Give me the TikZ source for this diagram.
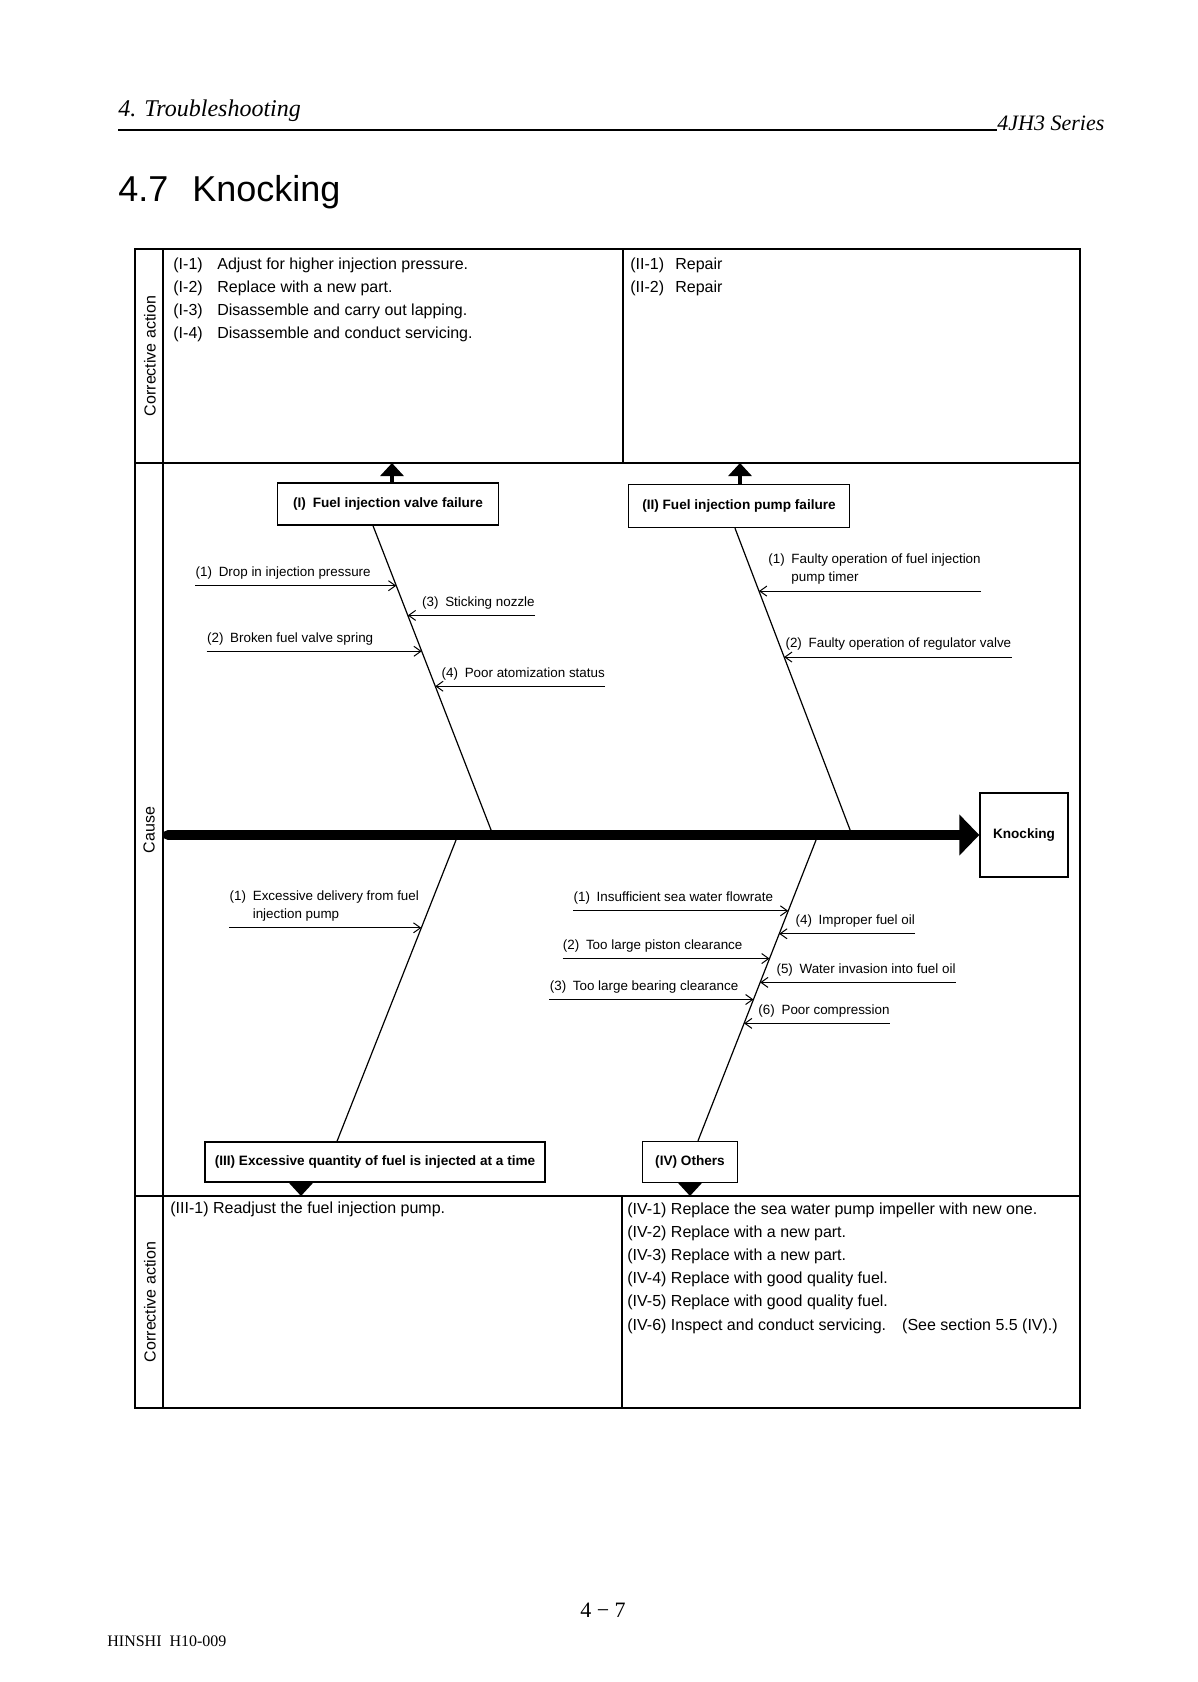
\documentclass[tikz,border=0pt]{standalone}
\usepackage{fontspec}
\setmainfont{Liberation Serif}
\setsansfont{Liberation Sans}
\usetikzlibrary{arrows.meta, positioning, calc}

\begin{document}
\begin{tikzpicture}[x=0.5pt, y=-0.5pt,
    panel/.style={line width=1.1pt},
    causebox/.style={draw, line width=0.7pt, inner sep=2pt, font=\sffamily\bfseries\fontsize{6.8}{8}\selectfont},
    bone/.style={line width=0.6pt},
    cause/.style={inner xsep=0pt, inner ysep=3pt, align=left, font=\sffamily\fontsize{6.7}{9}\selectfont},
    into/.style={line width=0.5pt, -{Straight Barb[length=3.5pt,width=5pt]}},
    toaction/.style={line width=2pt, -{Triangle[length=6.5pt,width=11.5pt]}},
    action/.style={inner sep=0pt, anchor=north west, align=left, font=\sffamily\fontsize{8}{11.6}\selectfont},
    sidelabel/.style={rotate=90, font=\sffamily\fontsize{8}{10}\selectfont}]
    \useasboundingbox (0,0) rectangle (1198,1682);

    % page header
    \node[anchor=base west, inner sep=0pt, font=\itshape\fontsize{12}{14}\selectfont] (chap) at (118,116) {4. Troubleshooting};
    \coordinate (rulel) at (118,130);
    \coordinate (ruler) at (997,130);
    \draw[line width=1.4pt] (rulel) -- (ruler);
    \node[anchor=base west, inner sep=0pt, font=\itshape\fontsize{11}{13}\selectfont] (series) at (ruler) {4JH3 Series};
    \node[anchor=base west, inner sep=0pt, font=\sffamily\fontsize{18}{22}\selectfont] (title) at (118,201) {4.7\hspace{12pt}Knocking};

    % frame
    \draw[panel] (135,249) rectangle (1080,1408);
    \draw[panel] (163,249) -- (163,1408);
    \draw[panel] (135,463) -- (1080,463);
    \draw[panel] (135,1196) -- (1080,1196);
    \draw[panel] (623,249) -- (623,463);
    \draw[panel] (622,1196) -- (622,1408);
    \coordinate (topdiv) at (0,463);
    \coordinate (lowdiv) at (0,1196);

    \node[sidelabel] (ca1) at (150,356) {Corrective action};
    \node[sidelabel] (cs) at (149,830) {Cause};
    \node[sidelabel] (ca2) at (150,1302) {Corrective action};

    % corrective actions
    \node[action] (actI) at (173,257) {\makebox[22pt][l]{(I-1)}Adjust for higher injection pressure.\\
        \makebox[22pt][l]{(I-2)}Replace with a new part.\\
        \makebox[22pt][l]{(I-3)}Disassemble and carry out lapping.\\
        \makebox[22pt][l]{(I-4)}Disassemble and conduct servicing.};
    \node[action] (actII) at (630,257) {\makebox[22.5pt][l]{(II-1)}Repair\\
        \makebox[22.5pt][l]{(II-2)}Repair};
    \node[action] (actIII) at (170,1201) {(III-1) Readjust the fuel injection pump.};
    \node[action] (actIV) at (627,1202) {(IV-1) Replace the sea water pump impeller with new one.\\
        (IV-2) Replace with a new part.\\
        (IV-3) Replace with a new part.\\
        (IV-4) Replace with good quality fuel.\\
        (IV-5) Replace with good quality fuel.\\
        (IV-6) Inspect and conduct servicing.\quad (See section 5.5 (IV).)};

    % main groups
    \node[causebox, minimum width=110.5pt, minimum height=21pt] (I) at (388,504) {(I)\enspace Fuel injection valve failure};
    \node[causebox, minimum width=110.5pt, minimum height=21.5pt] (II) at (739,506) {(II) Fuel injection pump failure};
    \node[causebox, minimum width=170pt, minimum height=20pt] (III) at (375,1162) {(III) Excessive quantity of fuel is injected at a time};
    \node[causebox, minimum width=47.5pt, minimum height=20.5pt] (IV) at (690,1162) {(IV) Others};
    \node[causebox, minimum width=44pt, minimum height=42pt] (K) at (1024,835) {Knocking};

    % spine
    \coordinate (tail) at (168,835);
    \draw[line width=5pt, line cap=round, -{Triangle[length=10pt,width=20pt]}] (tail) -- (K.west);
    \coordinate (sI) at (493,835);
    \coordinate (sII) at (852,835);
    \coordinate (sIII) at (458,835);
    \coordinate (sIV) at (818,835);

    % bones
    \draw[bone] ($(I.south)+(-15,0)$) -- coordinate[pos=.194] (i1) coordinate[pos=.290] (i3)
        coordinate[pos=.406] (i2) coordinate[pos=.519] (i4) (sI);
    \draw[bone] ($(II.south)+(-4,0)$) -- coordinate[pos=.205] (ii1) coordinate[pos=.420] (ii2) (sII);
    \draw[bone] (sIII) -- coordinate[pos=.303] (iii1) ($(III.north)+(-38,0)$);
    \draw[bone] (sIV) -- coordinate[pos=.248] (iv1) coordinate[pos=.323] (iv4) coordinate[pos=.404] (iv2)
        coordinate[pos=.482] (iv5) coordinate[pos=.538] (iv3) coordinate[pos=.616] (iv6) ($(IV.north)+(8,0)$);

    % causes of (I)
    \node[cause, anchor=south west] (c1) at ($(i1)+(-201,0)$) {(1)\enspace Drop in injection pressure};
    \node[cause, anchor=south west] (c2) at ($(i2)+(-215,0)$) {(2)\enspace Broken fuel valve spring};
    \node[cause, above right=0pt and 7pt of i3] (c3) {(3)\enspace Sticking nozzle};
    \node[cause, above right=0pt and 3pt of i4] (c4) {(4)\enspace Poor atomization status};
    \draw[into] (c1.south west) -- (i1);
    \draw[into] (c2.south west) -- (i2);
    \draw[into] (c3.south east) -- (i3);
    \draw[into] (c4.south east) -- (i4);

    % causes of (II)
    \node[cause, above right=0pt and 4.5pt of ii1] (d1) {(1)\enspace Faulty operation of fuel injection\\\phantom{(1)\enspace}pump timer};
    \node[cause, above right=0pt and 0.5pt of ii2] (d2) {(2)\enspace Faulty operation of regulator valve};
    \draw[into] (d1.south east) -- (ii1);
    \draw[into] (d2.south east) -- (ii2);

    % causes of (III)
    \node[cause, anchor=south west] (e1) at ($(iii1)+(-192,0)$) {(1)\enspace Excessive delivery from fuel\\\phantom{(1)\enspace}injection pump};
    \draw[into] (e1.south west) -- (iii1);

    % causes of (IV)
    \node[cause, anchor=south west] (f1) at ($(iv1)+(-215,0)$) {(1)\enspace Insufficient sea water flowrate};
    \node[cause, anchor=south west] (f2) at ($(iv2)+(-207,0)$) {(2)\enspace Too large piston clearance};
    \node[cause, anchor=south west] (f3) at ($(iv3)+(-204,0)$) {(3)\enspace Too large bearing clearance};
    \node[cause, above right=0pt and 8pt of iv4] (f4) {(4)\enspace Improper fuel oil};
    \node[cause, above right=0pt and 8pt of iv5] (f5) {(5)\enspace Water invasion into fuel oil};
    \node[cause, above right=0pt and 7pt of iv6] (f6) {(6)\enspace Poor compression};
    \draw[into] (f1.south west) -- (iv1);
    \draw[into] (f2.south west) -- (iv2);
    \draw[into] (f3.south west) -- (iv3);
    \draw[into] (f4.south east) -- (iv4);
    \draw[into] (f5.south east) -- (iv5);
    \draw[into] (f6.south east) -- (iv6);

    % to corrective actions
    \coordinate (upI) at ($(I.north)+(4,0)$);
    \coordinate (upII) at ($(II.north)+(1,0)$);
    \coordinate (dnIII) at ($(III.south)+(-74,0)$);
    \coordinate (dnIV) at (IV.south);
    \draw[toaction] (upI) -- (upI |- topdiv);
    \draw[toaction] (upII) -- (upII |- topdiv);
    \draw[toaction] (dnIII) -- (dnIII |- lowdiv);
    \draw[toaction] (dnIV) -- (dnIV |- lowdiv);

    % page footer
    \node[anchor=base, inner sep=0pt, font=\fontsize{11}{13}\selectfont] (pg) at (603,1617) {4 − 7};
    \node[anchor=base west, inner sep=0pt, font=\fontsize{8}{10}\selectfont] (code) at (107,1646) {HINSHI\ \ H10-009};
\end{tikzpicture}
\end{document}
